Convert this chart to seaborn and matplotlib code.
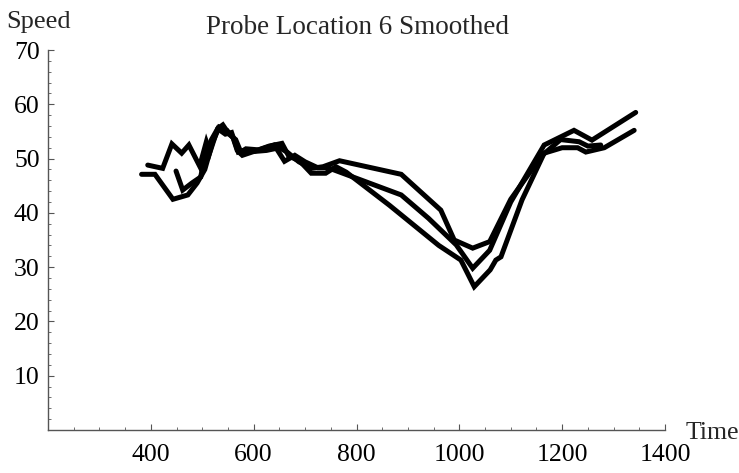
import numpy as np
import pandas as pd
import matplotlib
matplotlib.use("Agg")
import matplotlib.pyplot as plt
from matplotlib.ticker import FixedLocator
import seaborn as sns

# ---- data ----
time_a = [382, 408, 443, 472, 490, 505, 520, 533, 548, 560, 568, 578, 600, 630, 655, 668,
          690, 712, 740, 760, 780, 864, 960, 1003, 1029, 1060, 1071, 1081, 1122, 1165,
          1200, 1230, 1246, 1282, 1340]
speed_a = [47.1, 47.1, 42.5, 43.3, 45.5, 48.0, 53.0, 55.8, 55.2, 53.8, 51.5, 50.6, 51.3, 52.3, 52.8, 50.5,
           49.5, 47.3, 47.3, 48.5, 47.5, 41.4, 34.0, 31.3, 26.4, 29.5, 31.3, 31.9, 42.4, 51.0,
           52.0, 52.0, 51.2, 52.0, 55.2]

time_b = [394, 423, 441, 460, 474, 495, 508, 515, 530, 540, 552, 565, 575, 585, 610, 640,
          660, 680, 700, 725, 745, 887, 940, 994, 1026, 1059, 1100, 1165, 1223, 1258, 1343]
speed_b = [48.8, 48.2, 52.7, 51.0, 52.5, 48.6, 53.1, 51.2, 55.5, 56.2, 54.5, 53.5, 51.2, 51.8, 51.6, 52.5,
           49.5, 50.6, 49.4, 48.3, 48.3, 43.3, 39.0, 34.1, 29.8, 33.1, 42.0, 52.5, 55.2, 53.4, 58.5]

time_c = [449, 462, 480, 497, 505, 518, 530, 545, 557, 570, 580, 600, 625, 650, 665, 688,
          712, 735, 767, 887, 964, 990, 1026, 1059, 1100, 1160, 1197, 1233, 1250, 1275]
speed_c = [47.7, 44.2, 45.5, 46.6, 50.5, 53.5, 55.5, 54.5, 54.8, 51.2, 51.5, 51.3, 51.5, 52.0, 51.2, 49.4,
           48.2, 48.5, 49.6, 47.1, 40.5, 35.0, 33.5, 34.7, 42.5, 50.5, 53.5, 53.1, 52.3, 52.5]

x_major = [400, 600, 800, 1000, 1200, 1400]
y_major = [10, 20, 30, 40, 50, 60, 70]

df = pd.concat([
    pd.DataFrame({"Time": time_a, "Speed": speed_a, "run": "a"}),
    pd.DataFrame({"Time": time_b, "Speed": speed_b, "run": "b"}),
    pd.DataFrame({"Time": time_c, "Speed": speed_c, "run": "c"}),
], ignore_index=True)

sns.set_theme(style="white")
plt.rcParams['font.family'] = ['Liberation Serif', 'DejaVu Serif']

W, H = 739, 473
fig = plt.figure(figsize=(W / 100, H / 100), dpi=100)
ax = fig.add_axes([48 / W, 43 / H, 617 / W, 380 / H])

sns.lineplot(data=df, x="Time", y="Speed", hue="run", palette=["black"] * 3,
             estimator=None, sort=False, legend=False, linewidth=3.6, ax=ax,
             solid_capstyle="round", solid_joinstyle="miter")

ax.set_xlim(200, 1400)
ax.set_ylim(0, 70)
for s in ["top", "right"]:
    ax.spines[s].set_visible(False)
for s in ["left", "bottom"]:
    ax.spines[s].set_color("#555555")
    ax.spines[s].set_linewidth(1.0)

ax.xaxis.set_major_locator(FixedLocator(x_major))
ax.yaxis.set_major_locator(FixedLocator(y_major))
ax.xaxis.set_minor_locator(FixedLocator([v for v in range(250, 1400, 50) if v not in x_major]))
ax.yaxis.set_minor_locator(FixedLocator([v for v in range(2, 70, 2) if v not in y_major]))
ax.tick_params(which="major", direction="in", length=4.5, width=0.8, color="#555555",
               labelsize=18.5, labelcolor="black")
ax.tick_params(axis="x", which="major", pad=10)
ax.tick_params(axis="y", which="major", pad=6)
ax.tick_params(which="minor", direction="in", length=2.5, width=0.6, color="#555555")
ax.tick_params(axis="x", which="both", bottom=True)
ax.tick_params(axis="y", which="both", left=True)
ax.set_xlabel("")
ax.set_ylabel("")

fig.text(6 / W, 1 - 22 / H, "Speed", ha="left", va="center", fontsize=19)
fig.text(686 / W, 1 - 433 / H, "Time", ha="left", va="center", fontsize=18.5)
fig.text(357 / W, 1 - 28 / H, "Probe Location 6 Smoothed", ha="center", va="center", fontsize=19.5)

fig.savefig("out.png", dpi=100)
